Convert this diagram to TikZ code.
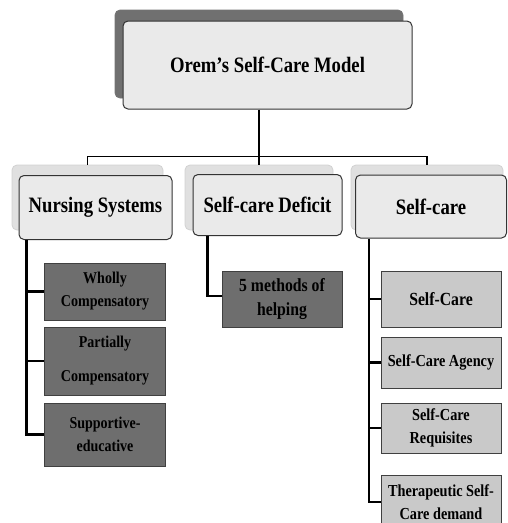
\documentclass[tikz,border=0pt]{standalone}
\usepackage{fontspec}
\setmainfont{Liberation Serif}[FakeStretch=0.85]
\usetikzlibrary{shapes}
\definecolor{shadedark}{HTML}{707070}
\definecolor{paneface}{HTML}{EAEAEA}
\definecolor{paneback}{HTML}{E0E0E0}
\definecolor{darkbox}{HTML}{6E6E6E}
\definecolor{lightbox}{HTML}{C9C9C9}

\begin{document}
\begin{tikzpicture}[x=1pt,y=-1pt,
	back/.style={rectangle, rounded corners=5pt, fill=paneback, draw=black!18, line width=0.8pt, inner sep=0pt},
	face/.style={rectangle, rounded corners=5pt, fill=paneface, draw=black!80, line width=1pt, inner sep=0pt, align=center, font=\fontsize{22}{26}\selectfont\bfseries},
	leaf/.style={rectangle, draw=black!75, line width=0.8pt, inner sep=0pt, minimum width=121pt, align=center, font=\fontsize{16.5}{23}\selectfont\bfseries},
	bigleaf/.style={font=\fontsize{18.5}{24}\selectfont\bfseries},
	midleaf/.style={font=\fontsize{16.8}{22.5}\selectfont\bfseries},
	wire/.style={line width=2.4pt, black}]
	\useasboundingbox (0,0) rectangle (507,523);
	\node[back, fill=shadedark, draw=black!55, minimum width=288pt, minimum height=88pt] (topback) at (259,54) {};
	\node[face, minimum width=289pt, minimum height=88pt] (top) at (267.5,65) {Orem’s Self-Care Model};
	\node[back, minimum width=151pt, minimum height=65pt] (nsback) at (87.5,197.5) {};
	\node[back, minimum width=148pt, minimum height=65pt] (dfback) at (259,197.5) {};
	\node[back, minimum width=152pt, minimum height=65pt] (scback) at (427,197.5) {};
	\draw[wire, line width=1.6pt] (dfback.north |- top.south) -- (dfback.north);
	\draw[wire, line width=1.6pt] (nsback.north) -- ++(0,-8) -| (scback.north);
	\node[face, minimum width=153pt, minimum height=64pt] (ns) at (95.5,207.5) {Nursing Systems};
	\node[face, minimum width=149pt, minimum height=61pt] (df) at (267.5,205) {Self-care Deficit};
	\node[face, minimum width=151pt, minimum height=63pt] (sc) at (431,206.5) {Self-care};
	\node[leaf, fill=darkbox, minimum height=57pt] (wc) at (105,291.5) {Wholly\\Compensatory};
	\node[leaf, fill=darkbox, minimum height=68pt] (pc) at (105,361) {Partially\\[11pt]Compensatory};
	\node[leaf, fill=darkbox, minimum height=63pt] (se) at (105,434.5) {Supportive-\\educative};
	\node[leaf, bigleaf, fill=darkbox, minimum width=120pt, minimum height=56pt] (mh) at (282,299) {5 methods of\\helping};
	\node[leaf, bigleaf, fill=lightbox, minimum width=120pt, minimum height=56pt] (c1) at (441,299) {Self-Care};
	\node[leaf, midleaf, fill=lightbox, minimum width=120pt, minimum height=51pt] (c2) at (441,362.5) {Self-Care Agency};
	\node[leaf, midleaf, fill=lightbox, minimum width=120pt, minimum height=50pt] (c3) at (441,428) {Self-Care\\Requisites};
	\node[leaf, midleaf, fill=lightbox, minimum width=120pt, minimum height=54pt] (c4) at (441,502) {Therapeutic Self-\\Care demand};
	\coordinate (nsrail) at ([xshift=8pt]ns.south west);
	\coordinate (dfrail) at ([xshift=15pt]df.south west);
	\coordinate (scrail) at ([xshift=14pt]sc.south west);
	\draw[wire] (nsrail) |- (se.west); \draw[wire] (nsrail |- wc.west) -- (wc.west); \draw[wire] (nsrail |- pc.west) -- (pc.west);
	\draw[wire] (dfrail) |- ([yshift=3pt]mh.west);
	\draw[wire] (scrail) |- (c4.west); \draw[wire] (scrail |- c1.west) -- (c1.west); \draw[wire] (scrail |- c2.west) -- (c2.west); \draw[wire] (scrail |- c3.west) -- (c3.west);
\end{tikzpicture}
\end{document}
